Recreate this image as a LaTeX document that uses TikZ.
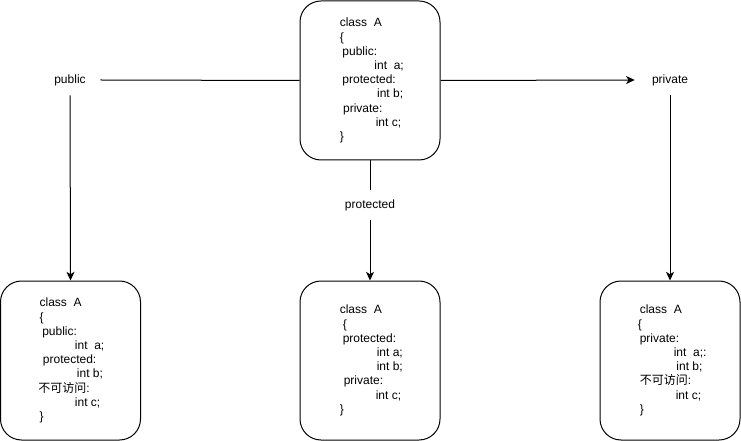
\documentclass[tikz,border=0pt]{standalone}
\usepackage{fontspec}
\setmainfont{Liberation Sans}
\newfontfamily\cjk{Noto Sans CJK SC}
\usetikzlibrary{arrows.meta,positioning}

\begin{document}
\begin{tikzpicture}[x=0.75pt,y=-0.75pt,
	cls/.style={draw,rounded corners=15.75pt,minimum width=105pt,minimum height=119.25pt,line width=0.75pt},
	code/.style={align=left,inner sep=0pt,anchor=west,font=\fontsize{9}{10.65}\selectfont},
	lbl/.style={minimum width=45pt,minimum height=22.5pt,inner sep=0pt,font=\fontsize{9}{11}\selectfont},
	flow/.style={-{Stealth[length=6.5pt,width=6pt,inset=1.8pt]},line width=0.75pt},
	link/.style={line width=0.75pt}]
\useasboundingbox (0,0) rectangle (741,441);
% base class
\node[cls] (clsA) at (370,80.5) {};
\node[code] (txtA) at ([xshift=30pt]clsA.west) {class~~A\\
\{\\
\hspace*{2pt}public:\\
\hspace*{26pt}int~~a;\\
\hspace*{2pt}protected:\\
\hspace*{28pt}int b;\\
\hspace*{2.5pt}private:\\
\hspace*{27pt}int c;\\
\}};
% inheritance modes
\node[lbl] (pub) at (70,80) {public};
\node[lbl] (prot) at (370,205) {protected};
\node[lbl,minimum width=52.5pt] (priv) at (670,80) {private};
% derived classes
\node[cls] (clsPub) at (70.5,360.5) {};
\node[code] (txtPub) at ([xshift=28.5pt]clsPub.west) {\hspace*{1pt}class~~A\\
\hspace*{1pt}\{\\
\hspace*{3pt}public:\\
\hspace*{27.5pt}int~~a;\\
\hspace*{3.5pt}protected:\\
\hspace*{29pt}int b;\\
{\cjk 不可访问}:\\
\hspace*{27.5pt}int c;\\
\hspace*{1pt}\}};
\node[cls] (clsProt) at (370,360.5) {};
\node[code] (txtProt) at ([xshift=30pt]clsProt.west) {class~~A\\
\hspace*{2.25pt}\{\\
\hspace*{2.25pt}protected:\\
\hspace*{27.75pt}int a;\\
\hspace*{27.75pt}int b;\\
\hspace*{3pt}private:\\
\hspace*{27pt}int c;\\
\}};
\node[cls] (clsPriv) at (670,360.5) {};
\node[code] (txtPriv) at ([xshift=28.5pt]clsPriv.west) {\hspace*{1.5pt}class~~A\\
\{\\
\hspace*{1.5pt}private:\\
\hspace*{27pt}int~~a;:\\
\hspace*{29pt}int b;\\
\hspace*{1.5pt}{\cjk 不可访问}:\\
\hspace*{28.5pt}int c;\\
\hspace*{1.5pt}\}};
% connectors
\draw[link] (clsA.west) -- (pub.east);
\draw[flow] (clsA.east) -- (priv.west);
\draw[link] (clsA.south) -- (prot.north);
\draw[flow] (prot.south) -- (clsProt.north);
\draw[flow] (pub.south) -- (clsPub.north);
\draw[flow] (priv.south) -- (clsPriv.north);
\end{tikzpicture}
\end{document}
